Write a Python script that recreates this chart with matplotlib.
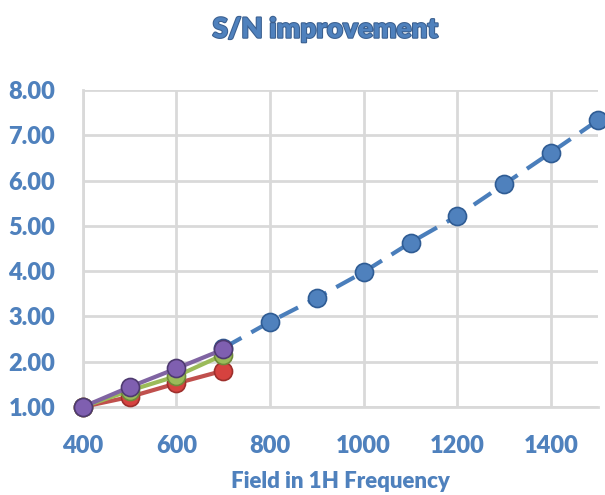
import matplotlib.pyplot as plt
import matplotlib.patheffects as pe

BLUE_TEXT = "#4f81bd"

field_all = [700, 800, 900, 1000, 1100, 1200, 1300, 1400, 1500]
sn_projected = [2.30, 2.88, 3.41, 3.98, 4.63, 5.22, 5.92, 6.62, 7.33]

field_meas = [400, 500, 600, 700]
sn_red = [1.00, 1.22, 1.52, 1.80]
sn_green = [1.00, 1.36, 1.68, 2.15]
sn_purple = [1.00, 1.44, 1.85, 2.27]

x_ticks = [400, 600, 800, 1000, 1200, 1400]
y_ticks = [1, 2, 3, 4, 5, 6, 7, 8]

plt.rcParams["font.family"] = ["Lato", "DejaVu Sans"]

fig = plt.figure(figsize=(6.05, 4.95), dpi=100)
ax = fig.add_axes([0.137, 0.178, 0.851, 0.64])

marker_kw = dict(marker="o", ms=13, mew=1.2, clip_on=False)
ax.plot(field_all, sn_projected, color="#4a7ebb", lw=3, ls=(0, (5, 2.7)),
        mfc="#4f81bd", mec="#2f5c94", zorder=3, **marker_kw)
ax.plot(field_meas, sn_red, color="#c0504d", lw=3,
        mfc="#d6423f", mec="#9e2f2c", zorder=4, **marker_kw)
ax.plot(field_meas, sn_green, color="#9bbb59", lw=3,
        mfc="#9bbb59", mec="#6f8a3a", zorder=5, **marker_kw)
ax.plot(field_meas, sn_purple, color="#8064a2", lw=3,
        mfc="#7f5fb0", mec="#4e3a70", zorder=6, **marker_kw)

ax.set_xlim(400, 1500)
ax.set_ylim(1, 8)
ax.set_xticks(x_ticks)
ax.set_yticks(y_ticks)
ax.set_yticklabels([f"{v:.2f}" for v in y_ticks])
ax.grid(True, color="#d9d9d9", lw=2)
ax.set_axisbelow(True)
for side in ("top", "right"):
    ax.spines[side].set_visible(False)
for side in ("left", "bottom"):
    ax.spines[side].set_color("#d9d9d9")
    ax.spines[side].set_linewidth(2)
ax.tick_params(axis="y", length=0, pad=20, labelsize=17, labelcolor=BLUE_TEXT)
ax.tick_params(axis="x", length=0, pad=20, labelsize=17, labelcolor=BLUE_TEXT)
for lbl in ax.get_xticklabels() + ax.get_yticklabels():
    lbl.set_fontweight("heavy")

# axis title placed in figure coordinates so it sits near the bottom edge
fig.text(0.562, 0.028, "Field in 1H Frequency", ha="center", va="center",
         fontsize=16, fontweight="heavy", color=BLUE_TEXT)
fig.text(0.538, 0.94, "S/N improvement", ha="center", va="center",
         fontsize=20, fontweight="heavy", color=BLUE_TEXT,
         path_effects=[pe.withStroke(linewidth=1.5, foreground="#3a5f8f")])

fig.savefig("out.png", dpi=100)
